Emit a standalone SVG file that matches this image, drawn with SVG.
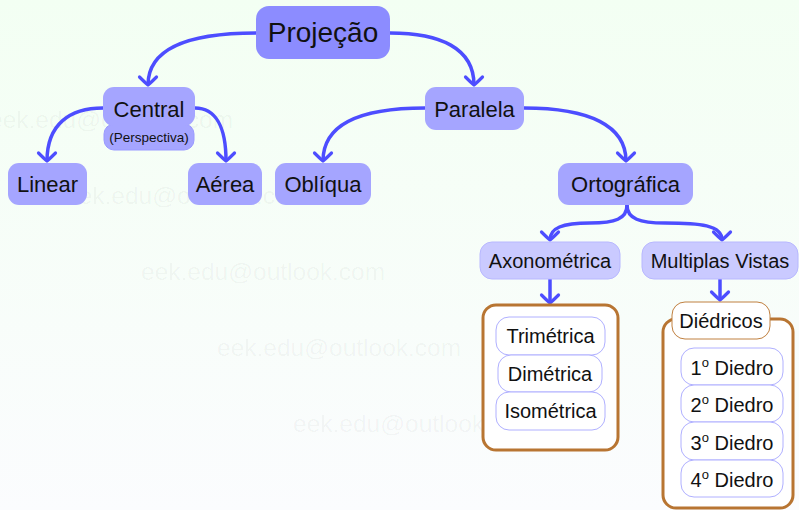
<svg xmlns="http://www.w3.org/2000/svg" width="799" height="510" viewBox="0 0 799 510">
<defs>
<linearGradient id="bg" x1="0" y1="0" x2="0" y2="1">
<stop offset="0" stop-color="#f3fff3"/>
<stop offset="1" stop-color="#fbfcfe"/>
</linearGradient>
<marker id="arr" markerUnits="userSpaceOnUse" markerWidth="24" markerHeight="24" viewBox="-12 -12 24 24" refX="0" refY="0" orient="auto" overflow="visible">
<path d="M-8,-8.5 Q-2,-2.5 0,0 Q-2,2.5 -8,8.5" fill="none" stroke="#4d4dff" stroke-width="3.2" stroke-linecap="round" stroke-linejoin="round"/>
</marker>
<style>
text{font-family:"Liberation Sans",Arial,sans-serif;fill:#111;text-anchor:middle}
.root{fill:#8c8cff}
.l1{fill:#a5a5ff}
.l2{fill:#cacaff;stroke:#b8b8ff;stroke-width:1}
.l3{fill:#ffffff;stroke:#b0b0ff;stroke-width:1}
.grp{fill:#ffffff;stroke:#b87532;stroke-width:3}
.dh{fill:#ffffff;stroke:#c08040;stroke-width:1}
.edge{fill:none;stroke:#4d4dff;stroke-width:3.5;marker-end:url(#arr)}
.wm{fill:#000;fill-opacity:0.045;font-size:24.5px;text-anchor:start}
.t1{font-size:22px}
.t2{font-size:20px}
</style>
</defs>
<rect x="0" y="0" width="799" height="510" fill="url(#bg)"/>

<g id="watermarks">
<text class="wm" x="-11" y="128">eek.edu@outlook.com</text>
<text class="wm" x="65" y="204">eek.edu@outlook.com</text>
<text class="wm" x="141" y="280">eek.edu@outlook.com</text>
<text class="wm" x="217" y="356">eek.edu@outlook.com</text>
<text class="wm" x="293" y="432">eek.edu@outlook.com</text>
</g>

<g id="connectors">
<path class="edge" d="M256,33 C190,33 148,48 148,85"/>
<path class="edge" d="M390,33 C440,33 474,48 474,85"/>
<path class="edge" d="M103,108 C70,108 47,124 47,161"/>
<path class="edge" d="M195,108 C215,108 226,126 226,161"/>
<path class="edge" d="M425,108 C360,108 323,124 323,161"/>
<path class="edge" d="M524,108 C590,108 626,126 626,161"/>
<path class="edge" d="M627,205 C627,219 615,223 590,223 C562,223 550,228 550,240"/>
<path class="edge" d="M627,205 C627,219 640,223 665,223 C700,223 722,225 722,240"/>
<path class="edge" d="M550,279 L550,303"/>
<path class="edge" d="M720,279 L720,300"/>
</g>

<g id="projecao"><rect class="root" x="256" y="6" width="134" height="53" rx="13"/><text x="323" y="42" style="font-size:28px">Projeção</text></g>
<g id="central"><rect class="l1" x="104" y="124" width="90" height="26" rx="10" stroke="#9a9aff" stroke-width="1"/><rect class="l1" x="103" y="87" width="92" height="39" rx="11"/><text class="t1" x="149" y="117">Central</text><text x="149" y="142" style="font-size:13.5px">(Perspectiva)</text></g>
<g id="linear"><rect class="l1" x="8" y="163" width="79" height="42" rx="11"/><text class="t1" x="47.5" y="192">Linear</text></g>
<g id="aerea"><rect class="l1" x="188" y="163" width="74" height="42" rx="11"/><text class="t1" x="225" y="192">Aérea</text></g>
<g id="obliqua"><rect class="l1" x="275" y="163" width="96" height="42" rx="11"/><text class="t1" x="323" y="192">Oblíqua</text></g>
<g id="paralela"><rect class="l1" x="425" y="87" width="99" height="43" rx="11"/><text class="t1" x="474.5" y="117">Paralela</text></g>
<g id="ortografica"><rect class="l1" x="558" y="163" width="135" height="42" rx="11"/><text class="t1" x="625.5" y="192">Ortográfica</text></g>
<g id="axonometrica"><rect class="l2" x="480" y="242" width="140" height="37" rx="12"/><text class="t2" x="550" y="268">Axonométrica</text></g>
<g id="multiplas"><rect class="l2" x="642" y="242" width="156" height="37" rx="12"/><text class="t2" x="720" y="268">Multiplas Vistas</text></g>

<g id="grupo-axonometrica">
<rect class="grp" x="483" y="305" width="135" height="145" rx="13"/>
<g id="trimetrica"><rect class="l3" x="496" y="317" width="109" height="38" rx="13"/><text class="t2" x="550.5" y="343">Trimétrica</text></g>
<g id="dimetrica"><rect class="l3" x="498" y="355" width="104" height="37" rx="13"/><text class="t2" x="550" y="381">Dimétrica</text></g>
<g id="isometrica"><rect class="l3" x="496" y="392" width="109" height="38" rx="13"/><text class="t2" x="550.5" y="418">Isométrica</text></g>
</g>

<g id="grupo-diedricos">
<rect class="grp" x="663" y="319" width="130" height="189" rx="13"/>
<g id="diedricos"><rect class="dh" x="672" y="302" width="98" height="37" rx="13"/><text class="t2" x="721" y="328">Diédricos</text></g>
<g id="diedro1"><rect class="l3" x="681" y="348" width="102" height="37" rx="13"/><text class="t2" x="732" y="375">1<tspan dy="-8" font-size="13">o</tspan><tspan dy="8"> Diedro</tspan></text></g>
<g id="diedro2"><rect class="l3" x="681" y="385" width="102" height="37" rx="13"/><text class="t2" x="732" y="412">2<tspan dy="-8" font-size="13">o</tspan><tspan dy="8"> Diedro</tspan></text></g>
<g id="diedro3"><rect class="l3" x="681" y="422" width="102" height="38" rx="13"/><text class="t2" x="732" y="450">3<tspan dy="-8" font-size="13">o</tspan><tspan dy="8"> Diedro</tspan></text></g>
<g id="diedro4"><rect class="l3" x="681" y="460" width="102" height="37" rx="13"/><text class="t2" x="732" y="487">4<tspan dy="-8" font-size="13">o</tspan><tspan dy="8"> Diedro</tspan></text></g>
</g>
</svg>
